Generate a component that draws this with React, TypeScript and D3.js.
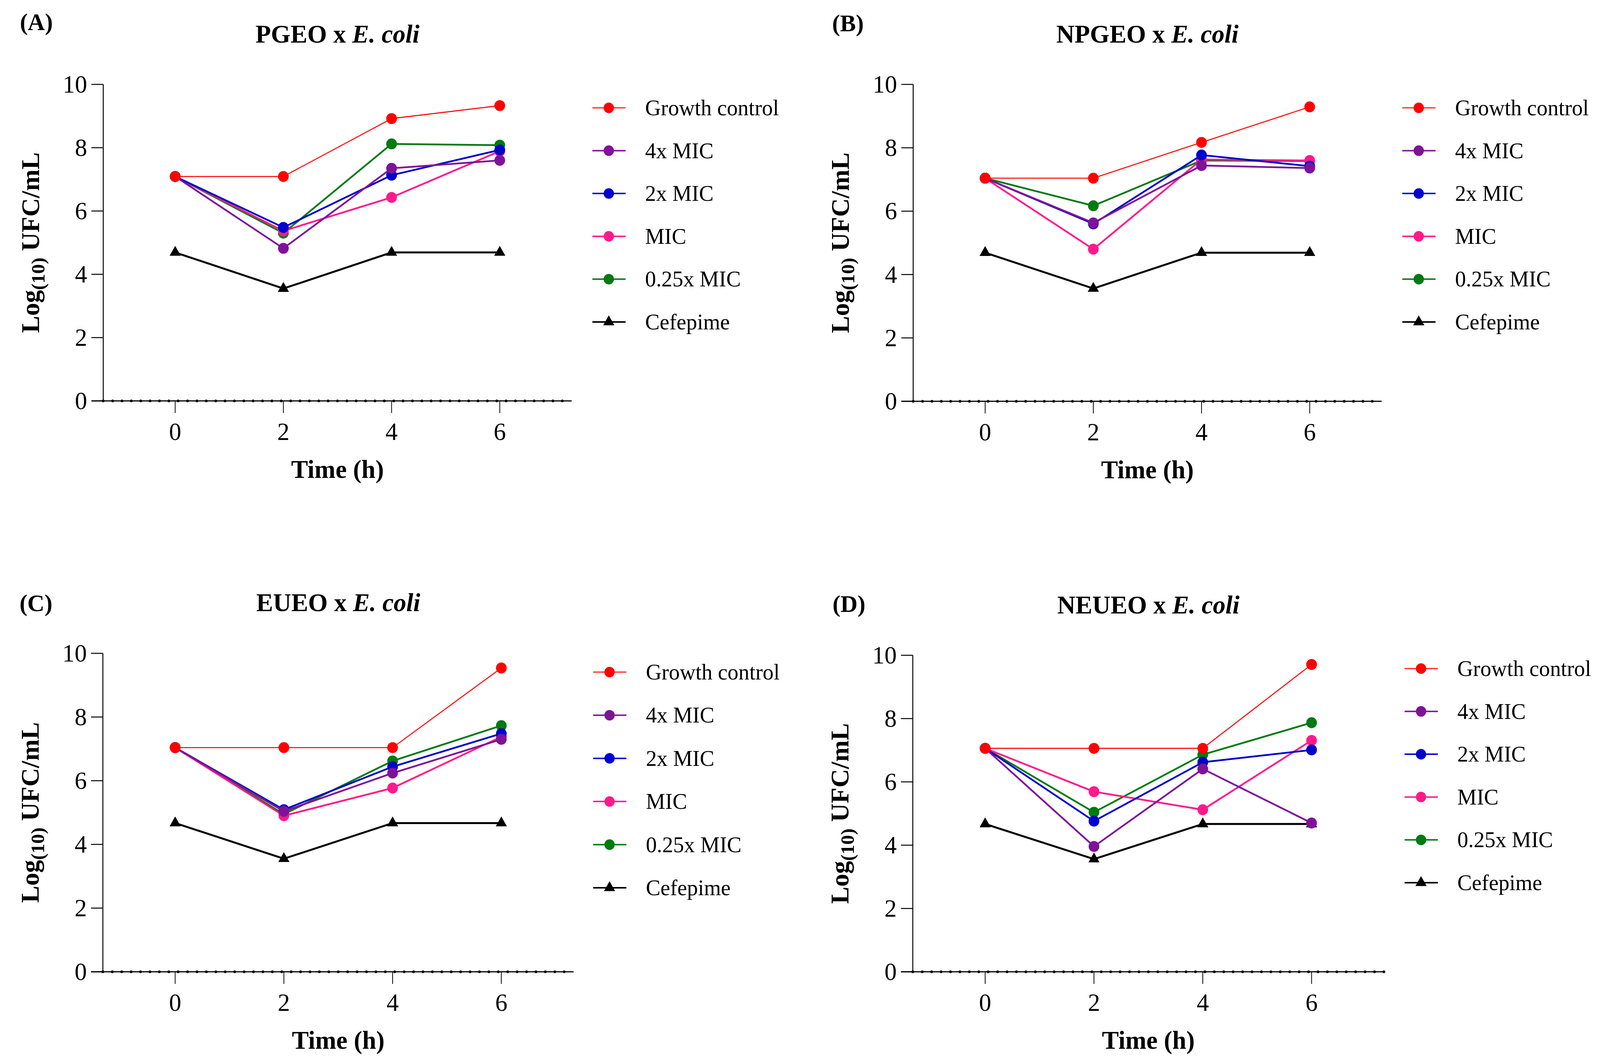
import * as d3 from "d3";

// sampling times (h)
const times = [0, 2, 4, 6];
const yTicks = [0, 2, 4, 6, 8, 10];
const seriesNames = ["Growth control", "4x MIC", "2x MIC", "MIC", "0.25x MIC", "Cefepime"];
const seriesColors = ["#ff0000", "#7e1399", "#0000cc", "#ff1a8c", "#007a12", "#000000"];
const panelLetters = ["(A)", "(B)", "(C)", "(D)"];
const panelOils = ["PGEO", "NPGEO", "EUEO", "NEUEO"];

// Log10 UFC/mL, one row per series in seriesNames order
const pgeo = [
	[7.09, 7.09, 8.92, 9.33],
	[7.09, 4.82, 7.35, 7.6],
	[7.09, 5.48, 7.13, 7.93],
	[7.09, 5.37, 6.43, 7.89],
	[7.09, 5.3, 8.12, 8.08],
	[4.69, 3.55, 4.69, 4.69],
];
const npgeo = [
	[7.04, 7.04, 8.17, 9.29],
	[7.04, 5.63, 7.44, 7.36],
	[7.04, 5.6, 7.77, 7.42],
	[7.04, 4.8, 7.63, 7.6],
	[7.04, 6.17, 7.6, 7.58],
	[4.69, 3.56, 4.69, 4.69],
];
const eueo = [
	[7.04, 7.04, 7.04, 9.54],
	[7.04, 5.04, 6.24, 7.3],
	[7.04, 5.09, 6.44, 7.48],
	[7.04, 4.9, 5.77, 7.38],
	[7.04, 4.95, 6.62, 7.73],
	[4.67, 3.55, 4.67, 4.67],
];
const neueo = [
	[7.06, 7.06, 7.06, 9.71],
	[7.06, 3.96, 6.41, 4.7],
	[7.06, 4.76, 6.62, 7.01],
	[7.06, 5.69, 5.12, 7.31],
	[7.06, 5.04, 6.86, 7.87],
	[4.67, 3.56, 4.67, 4.67],
];
const panelData = [pgeo, npgeo, eueo, neueo];

// where each panel sits on the page
const layouts = [
	{ left: 270, right: 1495, top: 216, bottom: 1026, titleY: 109, labelX: 52, labelY: 77, legX: 1592, legY: 276, legDy: 109.6 },
	{ left: 2388, right: 3613, top: 216, bottom: 1027, titleY: 109, labelX: 2176, labelY: 80, legX: 3710, legY: 276, legDy: 109.6 },
	{ left: 269, right: 1500, top: 1672, bottom: 2487, titleY: 1564, labelX: 51, labelY: 1564, legX: 1594, legY: 1720, legDy: 110.4 },
	{ left: 2387, right: 3619, top: 1677, bottom: 2487, titleY: 1570, labelX: 2177, labelY: 1566, legX: 3716, legY: 1711, legDy: 109.6 },
];

const FONT = "'Liberation Serif', 'Times New Roman', serif";
// drawing order: bottom to top
const drawOrder = [5, 4, 3, 2, 1, 0];

const circle = d3.symbol().type(d3.symbolCircle).size(Math.PI * 14 * 14);
const triangle = d3.symbol().type(d3.symbolTriangle).size(370);
const legendCircle = d3.symbol().type(d3.symbolCircle).size(Math.PI * 13.5 * 13.5);

const Panel = ({ index }: { index: number }) => {
	const L = layouts[index];
	const data = panelData[index];

	const x = d3.scaleLinear().domain([-1.33, 7.33]).range([L.left, L.right]);
	const y = d3.scaleLinear().domain([0, 10]).range([L.bottom, L.top]);

	const line = d3
		.line<number>()
		.x((_, i) => x(times[i]))
		.y((d) => y(d));

	const cx = (L.left + L.right) / 2;
	const cy = (L.top + L.bottom) / 2;

	return (
		<g>
			{/* panel letter and title */}
			<text x={L.labelX} y={L.labelY} fontFamily={FONT} fontWeight="bold" fontSize={62}>
				{panelLetters[index]}
			</text>
			<text x={cx} y={L.titleY} textAnchor="middle" fontFamily={FONT} fontWeight="bold" fontSize={66}>
				{panelOils[index]} x <tspan fontStyle="italic">E. coli</tspan>
			</text>

			{/* y axis */}
			<line x1={L.left} x2={L.left} y1={L.top} y2={L.bottom} stroke="#000" strokeWidth={2.5} />
			{yTicks.map((t) => (
				<g key={t}>
					<line x1={L.left - 31} x2={L.left} y1={y(t)} y2={y(t)} stroke="#000" strokeWidth={2.5} />
					<text x={L.left - 42} y={y(t) + 21} textAnchor="end" fontFamily={FONT} fontSize={64}>
						{t}
					</text>
				</g>
			))}
			<text
				transform={`translate(${L.left - 168},${cy}) rotate(-90)`}
				textAnchor="middle"
				fontFamily={FONT}
				fontWeight="bold"
				fontSize={66}
			>
				Log
				<tspan fontSize={50} dy={14}>
					(10)
				</tspan>
				<tspan dy={-14}> UFC/mL</tspan>
			</text>

			{/* x axis */}
			<line x1={L.left - 31} x2={L.right} y1={L.bottom} y2={L.bottom} stroke="#000" strokeWidth={3} />
			<line
				x1={L.left}
				x2={L.right}
				y1={L.bottom}
				y2={L.bottom}
				stroke="#000"
				strokeWidth={7}
				strokeLinecap="round"
				strokeDasharray={`0 ${(L.right - L.left) / 50}`}
			/>
			{times.map((t) => (
				<g key={t}>
					<line x1={x(t)} x2={x(t)} y1={L.bottom} y2={L.bottom + 31} stroke="#000" strokeWidth={2} />
					<text x={x(t)} y={L.bottom + 100} textAnchor="middle" fontFamily={FONT} fontSize={64}>
						{t}
					</text>
				</g>
			))}
			<text x={cx} y={L.bottom + 197} textAnchor="middle" fontFamily={FONT} fontWeight="bold" fontSize={66}>
				Time (h)
			</text>

			{/* series */}
			{drawOrder.map((s) => {
				const vals = data[s];
				const w = s === 0 ? 2.6 : s === 5 ? 5 : 4.5;
				return (
					<g key={s}>
						<path d={line(vals) || ""} fill="none" stroke={seriesColors[s]} strokeWidth={w} />
						{vals.map((v, i) => (
							<path
								key={i}
								transform={`translate(${x(times[i])},${y(v)})`}
								d={(s === 5 ? triangle() : circle()) || ""}
								fill={seriesColors[s]}
							/>
						))}
					</g>
				);
			})}

			{/* legend */}
			{seriesNames.map((name, s) => {
				const ly = L.legY + s * L.legDy;
				const w = s === 0 ? 2.4 : s === 5 ? 4.2 : 3.8;
				return (
					<g key={name}>
						<line x1={L.legX - 43} x2={L.legX + 44} y1={ly} y2={ly} stroke={seriesColors[s]} strokeWidth={w} />
						<path
							transform={`translate(${L.legX},${ly})`}
							d={(s === 5 ? triangle() : legendCircle()) || ""}
							fill={seriesColors[s]}
						/>
						<text x={L.legX + 95} y={ly + 19} fontFamily={FONT} fontSize={57}>
							{name}
						</text>
					</g>
				);
			})}
		</g>
	);
};

export default function App() {
	document.body.style.margin = "0";
	document.body.style.overflow = "hidden";
	return (
		<svg
			viewBox="0 0 4184 2723"
			preserveAspectRatio="none"
			style={{ position: "fixed", left: 0, top: 0, width: "100vw", height: "100vh", display: "block", background: "#fff" }}
		>
			<rect width={4184} height={2723} fill="#fff" />
			{[0, 1, 2, 3].map((i) => (
				<Panel key={i} index={i} />
			))}
		</svg>
	);
}
